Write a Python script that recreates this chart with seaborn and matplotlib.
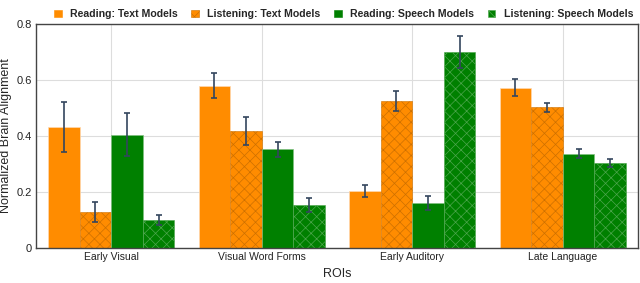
import numpy as np
import pandas as pd
import seaborn as sns
import matplotlib
matplotlib.use("Agg")
import matplotlib.pyplot as plt
from matplotlib.patches import Patch
from matplotlib.ticker import FuncFormatter

rois = ["Early Visual", "Visual Word Forms", "Early Auditory", "Late Language"]
conditions = ["Reading: Text Models", "Listening: Text Models",
              "Reading: Speech Models", "Listening: Speech Models"]
reading_text = [0.432, 0.580, 0.203, 0.573]
listening_text = [0.129, 0.418, 0.524, 0.503]
reading_speech = [0.404, 0.352, 0.160, 0.337]
listening_speech = [0.100, 0.152, 0.700, 0.305]
err_reading_text = [0.090, 0.045, 0.022, 0.030]
err_listening_text = [0.035, 0.050, 0.036, 0.016]
err_reading_speech = [0.077, 0.028, 0.024, 0.015]
err_listening_speech = [0.018, 0.025, 0.058, 0.014]

values = [reading_text, listening_text, reading_speech, listening_speech]
errors = [err_reading_text, err_listening_text, err_reading_speech, err_listening_speech]
colors = ["#FF8C00", "#FF8C00", "#008000", "#008000"]
hatch_colors = [None, "#CC7000", None, "#4DA64D"]
hatches = ["", "xxx", "", "xxx"]

rows = []
for c, vals in zip(conditions, values):
    for r, v in zip(rois, vals):
        rows.append({"ROI": r, "Condition": c, "Value": v})
df = pd.DataFrame(rows)

sns.set_theme(style="whitegrid")
plt.rcParams['font.family'] = ['Liberation Sans', 'DejaVu Sans']
plt.rcParams['hatch.linewidth'] = 0.5

fig = plt.figure(figsize=(6.4, 2.83), dpi=100)
ax = fig.add_axes([36 / 640, 35 / 283, 602 / 640, 224 / 283])

sns.barplot(data=df, x="ROI", y="Value", hue="Condition", order=rois,
            hue_order=conditions, palette=colors, width=0.84,
            errorbar=None, ax=ax, legend=False, saturation=1)

bar_containers = list(ax.containers)
for i, cont in enumerate(bar_containers):
    xs = []
    for bar in cont:
        if hatches[i]:
            bar.set_hatch(hatches[i])
            bar.set_edgecolor(hatch_colors[i])
            bar.set_linewidth(0.4)
        else:
            bar.set_edgecolor("#FFD9B0" if i == 0 else "#7FBF7F")
            bar.set_linewidth(0.5)
        xs.append(bar.get_x() + bar.get_width() / 2)
    ax.errorbar(xs, values[i], yerr=errors[i], fmt="none", ecolor="#34465E",
                elinewidth=1.2, capsize=2.5, capthick=1.2, zorder=5)

ax.set_ylim(0, 0.8)
ax.set_yticks([0, 0.2, 0.4, 0.6, 0.8])
ax.yaxis.set_major_formatter(FuncFormatter(lambda v, p: "0" if v == 0 else f"{v:.1f}"))
ax.set_xlim(-0.5, 3.5)
ax.grid(True, color="#DDDDDD", linewidth=0.8)
ax.set_axisbelow(True)
for s in ax.spines.values():
    s.set_color("#444444")
    s.set_linewidth(1.0)
ax.tick_params(axis="both", labelsize=7.5, colors="#222222", length=0, pad=3)
ax.tick_params(axis="y", labelsize=8)
ax.set_xlabel("ROIs", fontsize=9, labelpad=4)
ax.set_ylabel("Normalized Brain Alignment", fontsize=9, labelpad=3)

handles = []
for i, c in enumerate(conditions):
    hp = Patch(facecolor=colors[i], edgecolor=hatch_colors[i] or colors[i],
               hatch=hatches[i], linewidth=0.4, label=c)
    handles.append(hp)
fig.legend(handles=handles, loc="center", bbox_to_anchor=(0.537, 1 - 14 / 283),
           ncol=4, frameon=False, prop={"weight": "bold", "size": 7.6},
           handlelength=0.7, handleheight=0.7, handletextpad=0.8,
           columnspacing=1.3, borderpad=0)

fig.savefig("out.png", dpi=100)
